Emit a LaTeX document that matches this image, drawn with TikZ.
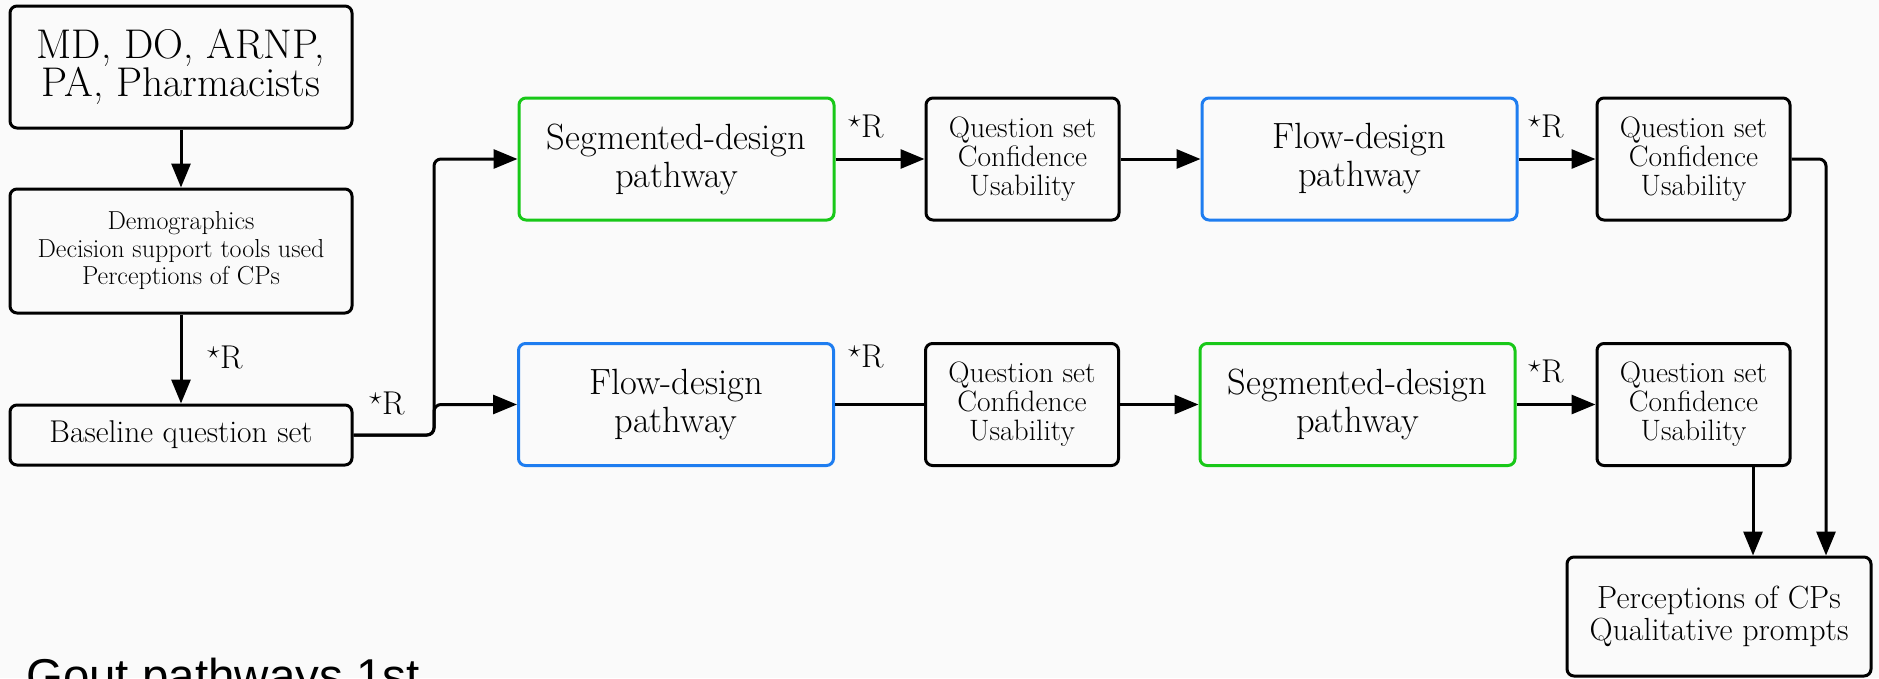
\documentclass[tikz,border=0pt]{standalone}
\usepackage{fontspec}
\newfontfamily\notefont{Liberation Sans}
\usetikzlibrary{arrows.meta}
\definecolor{bgcol}{RGB}{250,250,250}
\definecolor{segcol}{RGB}{24,200,24}
\definecolor{flowcol}{RGB}{30,125,240}

\begin{document}
\begin{tikzpicture}[x=1pt,y=-1pt,
  box/.style={draw, line width=3pt, rounded corners=7pt, align=center, inner sep=0pt},
  qbox/.style={box, minimum width=193pt, minimum height=122pt, font=\fontsize{29.5}{29}\selectfont},
  pbox/.style={box, minimum width=315pt, minimum height=122pt, font=\fontsize{36.5}{38}\selectfont},
  arr/.style={-{Triangle[length=24pt,width=19pt]}, line width=3pt},
  lbl/.style={font=\fontsize{33}{33}\selectfont, inner sep=0pt}]
\fill[bgcol] (0,0) rectangle (1879,678);
\useasboundingbox (0,0) rectangle (1879,678);

% left column
\node[box, minimum width=342pt, minimum height=122pt, font=\fontsize{41.5}{38}\selectfont] (staff) at (181,67) {MD, DO, ARNP,\\PA, Pharmacists};
\node[box, minimum width=342pt, minimum height=124pt, font=\fontsize{26}{27.5}\selectfont] (survey) at (181,251) {Demographics\\Decision support tools used\\Perceptions of CPs};
\node[box, minimum width=342pt, minimum height=60pt, font=\fontsize{31.5}{32}\selectfont] (baseline) at (181,435) {Baseline question set};

% segmented first
\node[pbox, draw=segcol] (segA) at (676.5,159) {Segmented-design\\pathway};
\node[qbox] (qsA) at (1022.5,159) {Question set\\Confidence\\Usability};
\node[pbox, draw=flowcol] (flowA) at (1359.5,159) {Flow-design\\pathway};
\node[qbox] (qsB) at (1693.5,159) {Question set\\Confidence\\Usability};

% flow first
\node[pbox, draw=flowcol] (flowB) at (676,404.5) {Flow-design\\pathway};
\node[qbox] (qsC) at (1022,404.5) {Question set\\Confidence\\Usability};
\node[pbox, draw=segcol] (segB) at (1357.5,404.5) {Segmented-design\\pathway};
\node[qbox] (qsD) at (1693.5,404.5) {Question set\\Confidence\\Usability};

\node[box, minimum width=304pt, minimum height=119pt, font=\fontsize{32}{32}\selectfont] (final) at (1719,616.5) {Perceptions of CPs\\Qualitative prompts};

\node[anchor=base west, inner sep=0pt, font=\fontsize{47.5}{50}\notefont] (title) at (26,692) {Gout pathways 1st};

% randomisation marks
\node[lbl] (rS) at (225,357) {$^\star$R};
\node[lbl] (rB) at (387,403) {$^\star$R};
\node[lbl] (rSA) at (866,126) {$^\star$R};
\node[lbl] (rFA) at (1546,126) {$^\star$R};
\node[lbl] (rFB) at (866,356) {$^\star$R};
\node[lbl] (rSB) at (1546,371) {$^\star$R};

\coordinate (split) at (434,435);
\coordinate (inB) at ([xshift=107pt]final.north);
\coordinate (inD) at ([xshift=34pt]final.north);

\draw[arr] (staff) -- (survey);
\draw[arr] (survey) -- (baseline);
\draw[arr, rounded corners=7pt] (baseline) -- (split) |- (segA);
\draw[arr, rounded corners=7pt] (baseline) -- (split) |- (flowB);

\draw[arr] (segA) -- (qsA);
\draw[arr] (qsA) -- (flowA);
\draw[arr] (flowA) -- (qsB);
\draw[arr, rounded corners=7pt] (qsB) -| (inB);

\draw[line width=3pt] (flowB) -- (qsC);
\draw[arr] (qsC) -- (segB);
\draw[arr] (segB) -- (qsD);
\draw[arr] (qsD.south -| inD) -- (inD);
\end{tikzpicture}
\end{document}
